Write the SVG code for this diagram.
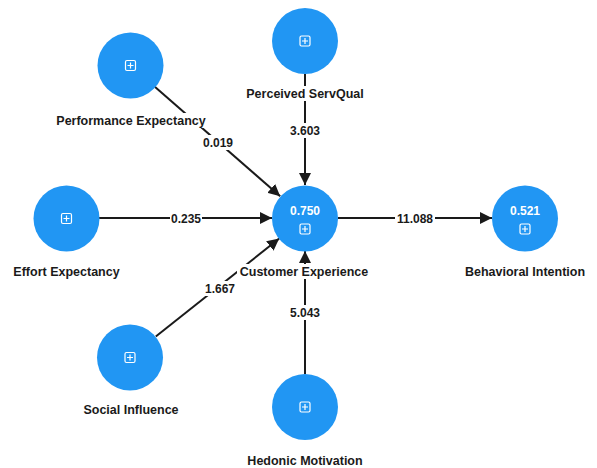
<svg xmlns="http://www.w3.org/2000/svg" width="597" height="468" viewBox="0 0 597 468">
<defs>
<style>
.node circle{fill:#2196f3;}
.lbl{font-family:"Liberation Sans",Arial,sans-serif;font-weight:bold;font-size:12.5px;fill:#1a1a1a;text-anchor:middle;}
.val{font-family:"Liberation Sans",Arial,sans-serif;font-weight:bold;font-size:12px;fill:#ffffff;text-anchor:middle;}
.elbl{font-family:"Liberation Sans",Arial,sans-serif;font-weight:bold;font-size:12px;fill:#1a1a1a;text-anchor:middle;}
.bg{fill:#ffffff;}
.edge{stroke:#1a1a1a;stroke-width:2;fill:none;marker-end:url(#arr);}
</style>
<marker id="arr" viewBox="0 0 10 10" refX="10" refY="5" markerWidth="6" markerHeight="6" orient="auto" markerUnits="strokeWidth">
<path d="M0,0 L10,5 L0,10 z" fill="#1a1a1a"/>
</marker>
<g id="plus">
<rect x="-5" y="-5" width="10" height="10" rx="1.5" fill="none" stroke="#ffffff" stroke-width="1.2"/>
<path d="M-3,0 H3 M0,-3 V3" fill="none" stroke="#ffffff" stroke-width="1.2"/>
</g>
</defs>
<rect width="597" height="468" fill="#ffffff"/>

<g id="connectors">
<line class="edge" x1="154.8" y1="86.7" x2="280.2" y2="196.3"/>
<line class="edge" x1="305" y1="74" x2="305" y2="185"/>
<line class="edge" x1="99" y1="218" x2="272" y2="218"/>
<line class="edge" x1="338" y1="218" x2="492" y2="218"/>
<line class="edge" x1="155.8" y1="336.5" x2="279.2" y2="238.5"/>
<line class="edge" x1="305" y1="374" x2="305" y2="251"/>
<rect class="bg" x="202" y="135" width="32" height="15"/>
<text class="elbl" x="218" y="147">0.019</text>
<rect class="bg" x="289" y="123" width="32" height="15"/>
<text class="elbl" x="305" y="135">3.603</text>
<rect class="bg" x="170" y="211" width="32" height="15"/>
<text class="elbl" x="186" y="222.5">0.235</text>
<rect class="bg" x="395" y="211" width="40" height="15"/>
<text class="elbl" x="415" y="222.5">11.088</text>
<rect class="bg" x="204" y="281" width="32" height="15"/>
<text class="elbl" x="220" y="293">1.667</text>
<rect class="bg" x="289" y="305" width="32" height="15"/>
<text class="elbl" x="305" y="317">5.043</text>
</g>

<g id="performance-expectancy" class="node">
<circle cx="130.5" cy="65.5" r="33"/>
<use href="#plus" x="130.5" y="65.5"/>
<rect class="bg" x="55" y="113" width="152" height="15"/>
<text class="lbl" x="131" y="124.5">Performance Expectancy</text>
</g>

<g id="perceived-servqual" class="node">
<circle cx="305" cy="41" r="33"/>
<use href="#plus" x="305" y="41"/>
<rect class="bg" x="244" y="86" width="122" height="15"/>
<text class="lbl" x="305" y="97.5">Perceived ServQual</text>
</g>

<g id="effort-expectancy" class="node">
<circle cx="66.5" cy="218.5" r="33"/>
<use href="#plus" x="66.5" y="218.5"/>
<rect class="bg" x="11" y="264" width="112" height="15"/>
<text class="lbl" x="66.5" y="275.5">Effort Expectancy</text>
</g>

<g id="customer-experience" class="node">
<circle cx="305" cy="218.5" r="33"/>
<text class="val" x="305" y="214.5">0.750</text>
<use href="#plus" x="305" y="229"/>
<rect class="bg" x="237" y="264" width="135" height="15"/>
<text class="lbl" x="304" y="275.5">Customer Experience</text>
</g>

<g id="behavioral-intention" class="node">
<circle cx="525" cy="218.5" r="33"/>
<text class="val" x="525" y="214.5">0.521</text>
<use href="#plus" x="525" y="229"/>
<rect class="bg" x="463" y="264" width="124" height="15"/>
<text class="lbl" x="525" y="275.5">Behavioral Intention</text>
</g>

<g id="social-influence" class="node">
<circle cx="130" cy="357.5" r="33"/>
<use href="#plus" x="130" y="357.5"/>
<rect class="bg" x="81" y="402" width="100" height="15"/>
<text class="lbl" x="131" y="413.5">Social Influence</text>
</g>

<g id="hedonic-motivation" class="node">
<circle cx="305" cy="407" r="33"/>
<use href="#plus" x="305" y="407"/>
<rect class="bg" x="244" y="453" width="122" height="15"/>
<text class="lbl" x="305" y="464.5">Hedonic Motivation</text>
</g>
</svg>
